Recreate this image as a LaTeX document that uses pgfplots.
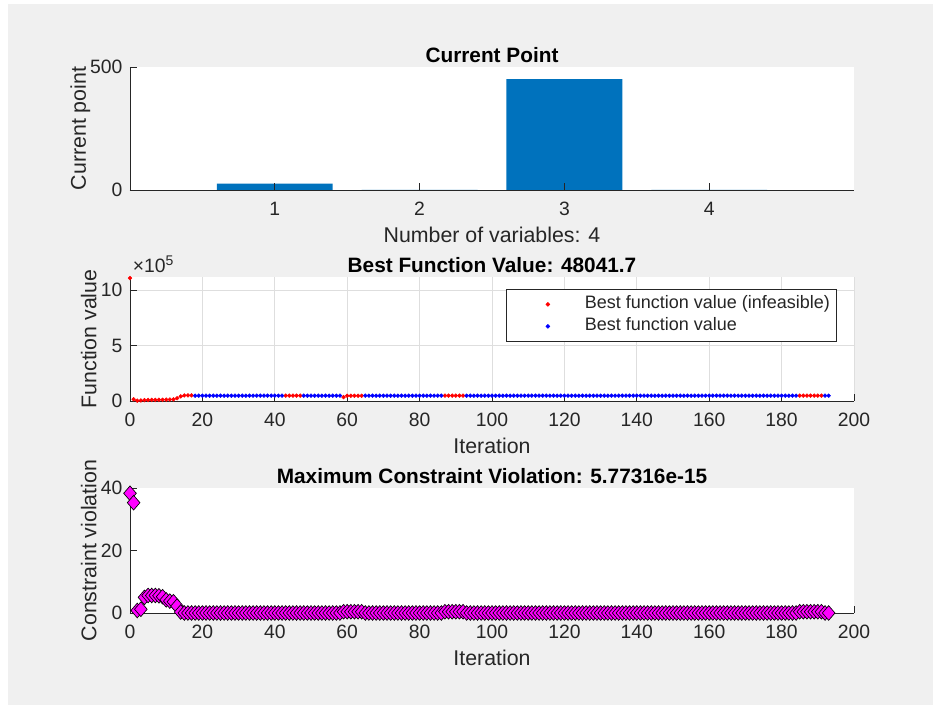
\documentclass[border=0pt]{standalone}
\usepackage{fontspec}
\setmainfont{Liberation Sans}
\usepackage{pgfplots}
\pgfplotsset{compat=1.18}
\definecolor{figbg}{HTML}{F0F0F0}
\definecolor{matblue}{HTML}{0072BD}
\definecolor{axc}{HTML}{262626}
\definecolor{mmag}{RGB}{255,0,255}
\definecolor{mred}{RGB}{255,0,0}
\definecolor{mblue}{RGB}{0,0,255}
\newcommand{\tickfont}{\fontsize{14.5}{17}\selectfont}
\newcommand{\labfont}{\fontsize{16}{19}\selectfont}
\newcommand{\titfont}{\fontsize{15.6}{18}\selectfont\bfseries}
\pgfplotsset{
  mstyle/.style={
    scale only axis, width=543pt,
    axis lines=left, axis line style={-, draw=axc, line width=0.6pt},
    tick align=inside, major tick length=5pt,
    tick style={draw=axc, line width=0.6pt},
    axis background/.style={fill=white},
    scaled ticks=false,
    /pgf/number format/assume math mode=true,
    ticklabel style={font=\tickfont, text=axc},
    xticklabel style={anchor=base, yshift=-19.5pt},
    yticklabel style={anchor=east, inner xsep=0pt, xshift=-5.5pt},
    title style={font=\titfont, anchor=base, at={(0.5,1)}, yshift=-2.5pt},
    xlabel style={font=\labfont, text=axc, anchor=base, at={(axis description cs:0.5,0)}, yshift=-39.75pt},
    every axis y label/.style={font=\labfont, text=axc, rotate=90, anchor=base},
    clip=false,
  }
}
\begin{document}
\begin{tikzpicture}
\path[use as bounding box, fill=white] (0,0) rectangle (699.75pt,528.75pt);
\fill[figbg] (6pt,0pt) rectangle (699.75pt,525.75pt);
% ---------- Panel 1 ----------
\begin{axis}[mstyle, at={(97.5pt,386.25pt)}, anchor=south west, height=92.25pt,
  xmin=0, xmax=5, ymin=0, ymax=500, xtick={1,2,3,4}, ytick={0,500},
  axis on top,
  title={Current Point}, xlabel={Number of variables: 4},
  ylabel={Current point},
  every axis y label/.append style={at={(axis description cs:-0.0608,0.5)}}]
\addplot[ybar, bar width=0.8, fill=matblue, draw=none] coordinates {(1,26) (2,0) (3,451) (4,0)};
\end{axis}
% ---------- Panel 2 ----------
\begin{axis}[mstyle, at={(97.5pt,228pt)}, anchor=south west, height=93pt,
  xmin=0, xmax=200, ymin=0, ymax=1120000,
  xtick={0,20,40,60,80,100,120,140,160,180,200},
  ytick={0,500000,1000000}, yticklabels={0,5,10},
  grid=major, major grid style={draw=black!13, line width=0.5pt},
  title={Best Function Value: 48041.7}, xlabel={Iteration},
  ylabel={Function value},
  every axis y label/.append style={at={(axis description cs:-0.0463,0.5)}},
  legend style={at={(0.9765,0.903)}, anchor=north east, draw=axc, line width=0.5pt,
    fill=white, font=\fontsize{13.5}{15}\selectfont, text=axc,
    inner xsep=3pt, inner ysep=3pt, row sep=0pt,
    nodes={inner sep=2pt, text height=9.5pt, text depth=3pt}},
  legend cell align=left,
  legend image code/.code={\draw[#1] plot coordinates {(28pt,0pt)}; \path[draw=none] (0pt,0pt) -- (53.75pt,0pt);}]
\node[anchor=base west, inner sep=0pt, font=\tickfont, text=axc] at (rel axis cs:0,1) [xshift=2pt, yshift=3pt] {×10\raisebox{0.75ex}{\fontsize{10.5}{12}\selectfont 5}};
\addplot[only marks, mark=*, mark size=1.4pt, color=mred, mark options={draw=none, fill=mred}] coordinates {
(0,1110000) (1,15000) (2,3000) (3,5000) (4,8000) (5,9000) (6,10000) (7,10000) (8,11000) (9,11000) (10,12000) (11,13000) (12,15000) (13,25000) (14,42000) (15,50000) (16,51000) (17,51000)
(43,48500) (44,48500) (45,48500) (46,48500) (47,48500)
(59,35000) (60,47000) (61,47000) (62,47000) (63,47000) (64,47000)
(87,48500) (88,48500) (89,48500) (90,48500) (91,48500) (92,48500)
(185,48500) (186,48500) (187,48500) (188,48500) (189,48500) (190,48500) (191,48500)
};
\addlegendentry{Best function value (infeasible)}
\addplot[only marks, mark=*, mark size=1.4pt, color=mblue, mark options={draw=none, fill=mblue}] coordinates {
(18,48041.7) (19,48041.7) (20,48041.7) (21,48041.7) (22,48041.7) (23,48041.7) (24,48041.7) (25,48041.7) (26,48041.7) (27,48041.7) (28,48041.7) (29,48041.7) (30,48041.7) (31,48041.7) (32,48041.7) (33,48041.7) (34,48041.7) (35,48041.7) (36,48041.7) (37,48041.7) (38,48041.7) (39,48041.7) (40,48041.7) (41,48041.7) (42,48041.7)
(48,48041.7) (49,48041.7) (50,48041.7) (51,48041.7) (52,48041.7) (53,48041.7) (54,48041.7) (55,48041.7) (56,48041.7) (57,48041.7) (58,48041.7)
(65,48041.7) (66,48041.7) (67,48041.7) (68,48041.7) (69,48041.7) (70,48041.7) (71,48041.7) (72,48041.7) (73,48041.7) (74,48041.7) (75,48041.7) (76,48041.7) (77,48041.7) (78,48041.7) (79,48041.7) (80,48041.7) (81,48041.7) (82,48041.7) (83,48041.7) (84,48041.7) (85,48041.7) (86,48041.7)
(93,48041.7) (94,48041.7) (95,48041.7) (96,48041.7) (97,48041.7) (98,48041.7) (99,48041.7) (100,48041.7) (101,48041.7) (102,48041.7) (103,48041.7) (104,48041.7) (105,48041.7) (106,48041.7) (107,48041.7) (108,48041.7) (109,48041.7) (110,48041.7) (111,48041.7) (112,48041.7) (113,48041.7) (114,48041.7) (115,48041.7) (116,48041.7) (117,48041.7) (118,48041.7) (119,48041.7) (120,48041.7) (121,48041.7) (122,48041.7) (123,48041.7) (124,48041.7) (125,48041.7) (126,48041.7) (127,48041.7) (128,48041.7) (129,48041.7) (130,48041.7) (131,48041.7) (132,48041.7) (133,48041.7) (134,48041.7) (135,48041.7) (136,48041.7) (137,48041.7) (138,48041.7) (139,48041.7) (140,48041.7) (141,48041.7) (142,48041.7) (143,48041.7) (144,48041.7) (145,48041.7) (146,48041.7) (147,48041.7) (148,48041.7) (149,48041.7) (150,48041.7) (151,48041.7) (152,48041.7) (153,48041.7) (154,48041.7) (155,48041.7) (156,48041.7) (157,48041.7) (158,48041.7) (159,48041.7) (160,48041.7) (161,48041.7) (162,48041.7) (163,48041.7) (164,48041.7) (165,48041.7) (166,48041.7) (167,48041.7) (168,48041.7) (169,48041.7) (170,48041.7) (171,48041.7) (172,48041.7) (173,48041.7) (174,48041.7) (175,48041.7) (176,48041.7) (177,48041.7) (178,48041.7) (179,48041.7) (180,48041.7) (181,48041.7) (182,48041.7) (183,48041.7) (184,48041.7)
(192,48041.7) (193,48041.7)
};
\addlegendentry{Best function value}
\end{axis}
% ---------- Panel 3 ----------
\begin{axis}[mstyle, at={(97.5pt,69pt)}, anchor=south west, height=93.75pt,
  xmin=0, xmax=200, ymin=0, ymax=40,
  xtick={0,20,40,60,80,100,120,140,160,180,200},
  ytick={0,20,40},
  title={Maximum Constraint Violation: 5.77316e-15}, xlabel={Iteration},
  ylabel={Constraint violation},
  every axis y label/.append style={at={(axis description cs:-0.0463,0.5)}}]
\addplot[only marks, mark=diamond*, mark size=5.5pt, mark options={fill=mmag, draw=black, line width=0.5pt, xscale=1.15}] coordinates {
(0,38.3) (1,35.3) (2,0.8) (3,1.2) (4,5.0) (5,5.6) (6,5.6) (7,5.6) (8,5.5) (9,5.2) (10,4.2) (11,3.8) (12,3.6) (13,2.2) (14,0.3)
(15,0) (16,0) (17,0) (18,0) (19,0) (20,0) (21,0) (22,0) (23,0) (24,0) (25,0) (26,0) (27,0) (28,0) (29,0) (30,0) (31,0) (32,0) (33,0) (34,0) (35,0) (36,0) (37,0) (38,0) (39,0) (40,0) (41,0) (42,0) (43,0) (44,0) (45,0) (46,0) (47,0) (48,0) (49,0) (50,0) (51,0) (52,0) (53,0) (54,0) (55,0) (56,0) (57,0) (58,0)
(59,0.4) (60,0.4) (61,0.4) (62,0.4) (63,0.4) (64,0.4)
(65,0) (66,0) (67,0) (68,0) (69,0) (70,0) (71,0) (72,0) (73,0) (74,0) (75,0) (76,0) (77,0) (78,0) (79,0) (80,0) (81,0) (82,0) (83,0) (84,0) (85,0) (86,0)
(87,0.4) (88,0.4) (89,0.4) (90,0.4) (91,0.4) (92,0.4)
(93,0) (94,0) (95,0) (96,0) (97,0) (98,0) (99,0) (100,0) (101,0) (102,0) (103,0) (104,0) (105,0) (106,0) (107,0) (108,0) (109,0) (110,0) (111,0) (112,0) (113,0) (114,0) (115,0) (116,0) (117,0) (118,0) (119,0) (120,0) (121,0) (122,0) (123,0) (124,0) (125,0) (126,0) (127,0) (128,0) (129,0) (130,0) (131,0) (132,0) (133,0) (134,0) (135,0) (136,0) (137,0) (138,0) (139,0) (140,0) (141,0) (142,0) (143,0) (144,0) (145,0) (146,0) (147,0) (148,0) (149,0) (150,0) (151,0) (152,0) (153,0) (154,0) (155,0) (156,0) (157,0) (158,0) (159,0) (160,0) (161,0) (162,0) (163,0) (164,0) (165,0) (166,0) (167,0) (168,0) (169,0) (170,0) (171,0) (172,0) (173,0) (174,0) (175,0) (176,0) (177,0) (178,0) (179,0) (180,0) (181,0) (182,0) (183,0) (184,0)
(185,0.4) (186,0.4) (187,0.4) (188,0.4) (189,0.4) (190,0.4) (191,0.4)
(192,0) (193,0)
};
\end{axis}
\end{tikzpicture}
\end{document}
